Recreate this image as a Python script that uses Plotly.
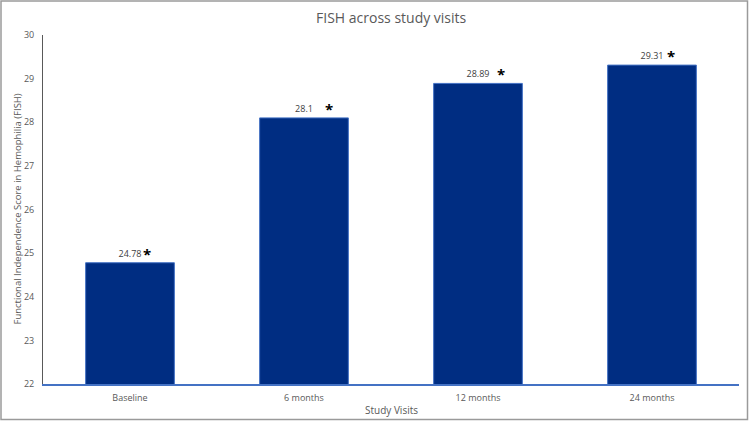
import plotly.graph_objects as go

categories = ["Baseline", "6 months", "12 months", "24 months"]
values = [24.78, 28.1, 28.89, 29.31]
value_labels = ["24.78", "28.1", "28.89", "29.31"]
y_ticks = [22, 23, 24, 25, 26, 27, 28, 29, 30]
star_xshift = [17, 25, 23, 19]

W, H = 750, 422
L, R, T, B = 43, 11, 35, 38
pw, ph = W - L - R, H - T - B

def px(x):
    return (x - L) / pw

def py(y):
    return (H - B - y) / ph

font = "Open Sans, Liberation Sans, sans-serif"

fig = go.Figure(go.Bar(
    x=categories, y=values, width=0.51,
    marker=dict(color="#002D82", line=dict(color="#4472C4", width=1)),
    text=value_labels, textposition="outside",
    textfont=dict(size=9, color="#404040", family=font),
    cliponaxis=False,
))

for c, v, s in zip(categories, values, star_xshift):
    fig.add_annotation(x=c, y=v, text="<b>*</b>", showarrow=False,
                       xshift=s, yshift=9, font=dict(size=15, color="#000000", family=font))

fig.add_annotation(xref="paper", yref="paper", x=0.5, y=py(17), xanchor="center", yanchor="middle",
                   text="FISH across study visits",
                   showarrow=False, font=dict(size=14, color="#595959", family=font))
fig.add_annotation(xref="paper", yref="paper", x=px(17), y=0.5, xanchor="center", yanchor="middle",
                   textangle=-90,
                   text="Functional Independence Score in Hemophilia (FISH)",
                   showarrow=False, font=dict(size=9.5, color="#595959", family=font))
fig.add_annotation(xref="paper", yref="paper", x=0.5, y=py(410), xanchor="center", yanchor="middle",
                   text="Study Visits",
                   showarrow=False, font=dict(size=10, color="#595959", family=font))

fig.add_shape(type="rect", xref="paper", yref="paper",
              x0=px(1), x1=px(747.5), y0=py(419.5), y1=py(1),
              line=dict(color="#9a9a9a", width=1.5), layer="above")

fig.update_layout(
    width=W, height=H, margin=dict(l=L, r=R, t=T, b=B),
    paper_bgcolor="white", plot_bgcolor="white", showlegend=False,
    bargap=0.49,
    xaxis=dict(showline=True, linecolor="#4472C4", linewidth=1.5, showgrid=False,
               ticks="", tickfont=dict(size=9, color="#595959", family=font), ticklabelstandoff=4),
    yaxis=dict(range=[22, 30], tickvals=y_ticks, showgrid=False, zeroline=False,
               showline=True, linecolor="#595959", linewidth=1, ticks="",
               tickfont=dict(size=9, color="#595959", family=font), ticklabelstandoff=6),
)

fig.write_html("out.html")
